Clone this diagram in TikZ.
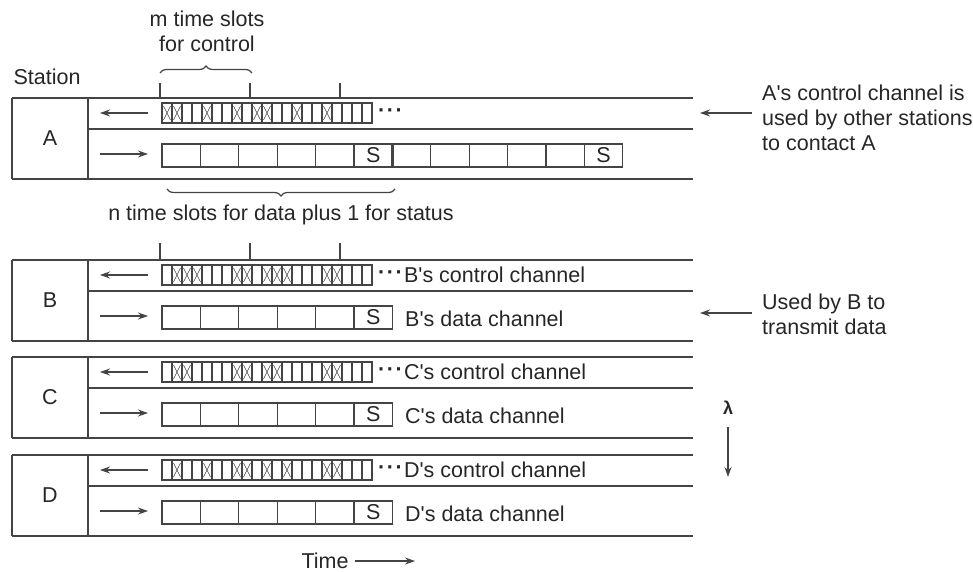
\documentclass[tikz,border=0pt]{standalone}
\usepackage{fontspec}
\setmainfont{Liberation Sans}
\usepackage{tikz}
\usetikzlibrary{arrows.meta,positioning,decorations.pathreplacing}
\definecolor{ink}{HTML}{444444}

\begin{document}
\begin{tikzpicture}[x=1pt, y=-1pt, font=\fontsize{21.5}{25}\selectfont, >={Stealth[length=10pt,width=7pt]},
  line/.style={draw=ink, line width=1.6pt},
  slot/.style={draw=ink, line width=1.2pt},
  xmark/.style={draw=ink, line width=0.6pt},
  txt/.style={inner sep=2pt, text=black!85},
  dotrow/.style={txt, anchor=west, inner sep=0pt, font=\fontsize{21.5}{25}\selectfont\bfseries},
  note/.style={txt, anchor=west, align=left, inner xsep=10pt}]
  \useasboundingbox (0,0) rectangle (973,572);
  \foreach \sname/\yy/\xs in {A/98/{0,1,4,7,9,10,13,16}, B/260/{1,2,3,7,8,10,11,12,16,17},
                               C/357/{1,2,7,8,10,11,16,17}, D/455/{1,4,7,8,10,12,16,17}} {
    \draw[line] (12,\yy) -- (693,\yy) (12,\yy+81) -- (693,\yy+81) (88,\yy+31) -- (693,\yy+31)
      (12,\yy) -- (12,\yy+81) (88,\yy) -- (88,\yy+81);
    \node[txt] (st\sname) at (50,\yy+40) {\sname};
    \draw[->, line] (148,\yy+15) -- (100,\yy+15);
    \draw[->, line] (100,\yy+56) -- (148,\yy+56);
    \foreach \i in {0,...,20} \draw[slot] (162+10*\i,\yy+5) rectangle ++(10,20);
    \foreach \i in \xs \draw[xmark] (163.5+10*\i,\yy+8) -- ++(7,14) (170.5+10*\i,\yy+8) -- ++(-7,14);
    \node[dotrow] (dots\sname) at (378,\yy+15) {·\kern1.5pt·\kern1.5pt·};
    \foreach \i in {0,...,5} \draw[slot] (162+38.4*\i,\yy+46) rectangle ++(38.4,23);
    \node[txt] (s\sname) at (373.2,\yy+57.5) {S};
  }
  \foreach \sname/\yy in {B/260, C/357, D/455} {
    \node[txt, anchor=west, inner sep=0pt] (ctl\sname) at ([xshift=1pt]dots\sname.east) {\sname\textquotesingle s control channel};
    \node[txt, anchor=west, inner sep=0pt] (dat\sname) at (405,\yy+59) {\sname\textquotesingle s data channel};
  }
  \foreach \i in {6,...,11} \draw[slot] (162+38.4*\i,144) rectangle ++(38.4,23);
  \draw[draw=ink, line width=2.6pt] (392.4,144) -- (392.4,167);
  \node[txt] (sA2) at (603.6,155.5) {S};
  \foreach \ya/\yb in {83/98, 243/260}
    \foreach \x in {160,250,340} \draw[slot] (\x,\ya) -- (\x,\yb);
  \node[txt, align=center] (mslots) at (207,31) {m time slots\\for control};
  \draw[slot, decorate, decoration={brace, amplitude=7pt}] (160,73) -- (252,73);
  \node[txt] (station) at (47,77) {Station};
  \draw[slot, decorate, decoration={brace, amplitude=7pt}] (395,189) -- (167,189);
  \node[txt] (nslots) at (281,215) {n time slots for data plus 1 for status};
  \node[note] (noteA) at (752,118) {A\textquotesingle s control channel is\\used by other stations\\to contact A};
  \coordinate (ctlA) at (700,113);
  \draw[->, line] (noteA.west |- ctlA) -- (ctlA);
  \node[note] (noteB) at (752,314) {Used by B to\\transmit data};
  \coordinate (datB) at (700,313);
  \draw[->, line] (noteB.west |- datB) -- (datB);
  \node[txt, font=\fontsize{18}{20}\selectfont\bfseries] (lam) at (728,408) {λ};
  \coordinate (lamEnd) at (728,477);
  \draw[->, line] ([yshift=-10pt]lam.south) -- (lamEnd);
  \node[txt] (time) at (325,561) {Time};
  \coordinate (timeEnd) at (415,561);
  \draw[->, line, shorten <=4pt] (time.east) -- (timeEnd);
\end{tikzpicture}
\end{document}
